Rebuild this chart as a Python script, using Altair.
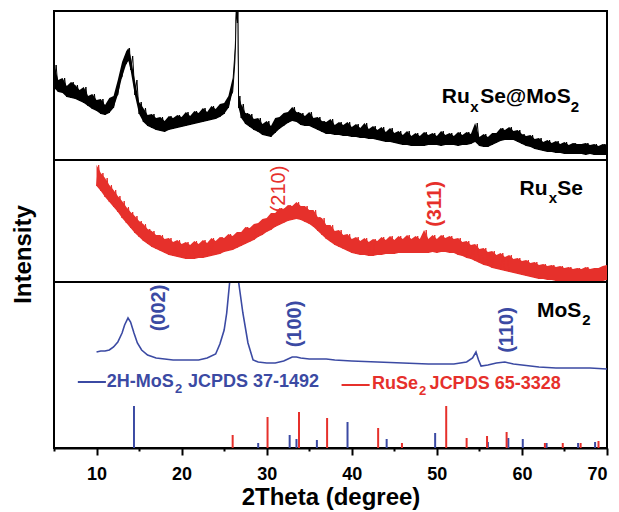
import altair as alt
import pandas as pd

F = "Liberation Sans"
RED = "#e6302b"
BLUE = "#3b4aa3"

# ---------------- data (intensity in arbitrary units, stacked offsets) ----------------
black_deg = [5.0, 5.5, 6.0, 6.5, 7.0, 7.5, 8.0, 8.5, 9.0, 9.5, 10.0, 10.5, 11.0, 11.5, 12.0, 12.5,
             13.0, 13.5, 13.75, 14.0, 14.5, 15.0, 15.5, 16.0, 16.5, 17.0, 17.5, 18.0, 18.5, 19.0,
             19.5, 20.0, 20.5, 21.0, 21.5, 22.0, 22.5, 23.0, 23.5, 24.0, 24.5, 25.0, 25.5, 26.0,
             26.25, 26.4, 26.55, 26.7, 27.0, 27.5, 28.0, 28.5, 29.0, 29.5, 30.0, 30.5, 31.0, 31.5,
             32.0, 32.5, 33.0, 33.5, 34.0, 34.5, 35.0, 35.5, 36.0, 36.5, 37.0, 37.5, 38.0, 38.5,
             39.0, 39.5, 40.0, 40.5, 41.0, 41.5, 42.0, 42.5, 43.0, 43.5, 44.0, 44.5, 45.0, 45.5,
             46.0, 46.5, 47.0, 47.5, 48.0, 48.5, 49.0, 49.5, 50.0, 50.5, 51.0, 51.5, 52.0, 52.5,
             53.0, 53.5, 54.0, 54.5, 55.0, 55.5, 56.0, 56.5, 57.0, 57.5, 58.0, 58.5, 59.0, 59.5,
             60.0, 60.5, 61.0, 61.5, 62.0, 62.5, 63.0, 63.5, 64.0, 64.5, 65.0, 65.5, 66.0, 66.5,
             67.0, 67.5, 68.0, 68.5, 69.0, 69.5, 70.0]
black_lo = [360, 356, 355, 351, 350, 349, 347, 345, 342, 339, 337, 334, 333, 335, 340, 353,
            371, 384, 387, 378, 353, 334, 326, 322, 320, 318, 317, 316, 318, 319,
            320, 321, 322, 323, 324, 325, 326, 327, 328, 329, 331, 334, 340, 356,
            385, 430, 425, 340, 330, 324, 321, 318, 316, 313, 312, 311, 315, 319,
            322, 325, 327, 326, 323, 322, 322, 320, 318, 316, 314, 314, 313, 313,
            312, 312, 311, 311, 310, 310, 309, 309, 308, 307, 306, 306, 305, 304,
            303, 303, 302, 302, 302, 302, 303, 303, 303, 302, 303, 303, 303, 302,
            303, 303, 304, 306, 302, 301, 301, 303, 305, 307, 308, 308, 308, 306,
            304, 302, 301, 299, 298, 297, 296, 296, 295, 295, 294, 294, 294, 294,
            294, 293, 294, 293, 293, 293, 293]
black_hi = [383, 368, 370, 362, 366, 363, 358, 361, 352, 354, 348, 349, 343, 350, 352, 368,
            386, 397, 400, 392, 368, 346, 340, 333, 334, 330, 331, 327, 332, 330,
            333, 331, 336, 332, 337, 335, 340, 336, 342, 339, 344, 345, 352, 370,
            400, 445, 445, 352, 344, 335, 334, 329, 330, 324, 327, 322, 330, 331,
            335, 336, 341, 336, 335, 332, 336, 330, 331, 327, 326, 329, 323, 326,
            323, 326, 321, 324, 320, 325, 319, 322, 318, 321, 316, 320, 315, 317,
            313, 317, 312, 315, 312, 316, 313, 315, 312, 317, 313, 315, 312, 316,
            313, 316, 314, 325, 311, 314, 311, 315, 315, 320, 318, 321, 317, 318,
            314, 312, 313, 309, 310, 306, 308, 305, 307, 304, 306, 303, 305, 304,
            304, 305, 303, 304, 302, 304, 303]

red_deg = [10.0 + 0.5 * k for k in range(121)]
red_lo = [262, 257, 251, 246, 241, 236, 230, 225, 220, 215,
          211, 207, 204, 201, 199, 197, 195, 193, 192, 191,
          190, 189, 189, 189, 190, 190, 191, 192, 193, 194,
          196, 197, 198, 200, 202, 204, 206, 208, 211, 213,
          216, 218, 221, 223, 225, 227, 228, 229, 228, 226,
          224, 221, 217, 213, 209, 206, 203, 201, 199, 197,
          195, 194, 193, 193, 192, 192, 193, 193, 194, 194,
          194, 195, 195, 195, 195, 195, 195, 195, 195, 196,
          195, 196, 196, 195, 195, 193, 192, 190, 189, 187,
          185, 183, 182, 180, 179, 178, 177, 176, 175, 174,
          173, 172, 171, 170, 169, 169, 168, 168, 167, 167,
          167, 167, 167, 167, 167, 167, 167, 167, 167, 167,
          168]
red_hi = [283, 275, 270, 263, 258, 252, 247, 241, 236, 232,
          227, 224, 219, 217, 213, 213, 209, 210, 206, 208,
          204, 206, 203, 207, 204, 208, 205, 210, 207, 211,
          210, 214, 212, 216, 216, 221, 220, 224, 225, 229,
          230, 235, 235, 240, 239, 243, 242, 246, 242, 242,
          238, 238, 231, 230, 223, 223, 217, 218, 213, 214,
          209, 211, 207, 210, 206, 209, 207, 211, 208, 212,
          208, 212, 209, 213, 209, 212, 209, 218, 209, 213,
          209, 213, 210, 212, 209, 210, 206, 207, 203, 204,
          199, 200, 196, 197, 193, 195, 191, 193, 189, 190,
          187, 188, 185, 186, 183, 184, 182, 183, 181, 182,
          180, 181, 179, 180, 179, 181, 179, 180, 180, 182,
          183]

blue_deg = [10.0, 10.5, 11.0, 11.5, 12.0, 12.5, 13.0, 13.3, 13.7, 14.0, 14.4, 14.8, 15.3, 16.0,
            17.0, 18.0, 19.0, 20.0, 21.0, 22.0, 23.0, 24.0, 24.5, 25.0, 25.3, 25.65, 26.2, 26.7,
            27.2, 27.8, 28.4, 29.0, 30.0, 31.0, 32.0, 32.5, 33.0, 33.5, 34.0, 35.0, 36.0, 37.0,
            38.0, 40.0, 43.0, 46.0, 49.0, 52.0, 53.5, 54.2, 54.6, 54.9, 55.2, 56.0, 57.0, 58.0,
            59.0, 60.0, 62.0, 64.0, 66.0, 68.0, 70.0]
blue_val = [96, 97, 97, 98, 101, 106, 115, 123, 130, 126, 115, 105, 98, 93,
            90, 89, 88, 88, 88, 88, 90, 94, 104, 118, 135, 166, 166, 166,
            135, 105, 88, 86, 85, 85, 87, 89, 91, 91, 90, 89, 89, 89,
            88, 87, 86, 85, 84, 84, 86, 90, 96, 88, 82, 83, 85, 86,
            84, 83, 81, 80, 80, 80, 79]

# reference patterns (stick heights)
mos2_ref_deg = [14.4, 29.0, 32.7, 33.5, 35.9, 39.5, 44.1, 49.8, 56.0, 58.4, 60.1, 62.9, 66.6, 68.6]
mos2_ref_h = [42, 5, 13, 9, 8, 26, 9, 15, 6, 10, 9, 5, 5, 6]
ruse2_ref_deg = [26.0, 30.1, 33.8, 37.1, 43.1, 45.9, 51.1, 53.5, 55.9, 58.2, 62.7, 64.8, 66.9, 69.0]
ruse2_ref_h = [13, 31, 36, 30, 20, 5, 42, 10, 12, 16, 5, 5, 5, 7]

panel_dividers = [288, 166]

# text pieces (main text and subscripts)
seg_text = ["Ru", "x", "Se@MoS", "2", "Ru", "x", "Se", "MoS", "2",
            "2H-MoS", "2", "JCPDS 37-1492", "RuSe", "2", "JCPDS 65-3328"]
seg_deg = [50.59, 53.92, 55.09, 65.75, 59.72, 63.15, 64.15, 61.76, 67.09,
           11.21, 19.21, 20.74, 42.39, 47.91, 49.15]
seg_y = [344.7, 336.5, 344.7, 336.5, 253, 245, 253, 130.7, 123,
         61.3, 55, 61.3, 58.7, 53, 58.7]
seg_size = [21, 15, 21, 15, 21, 15, 21, 21, 15, 18, 13, 18, 18, 13, 18]
seg_color = ["black"] * 9 + [BLUE] * 3 + [RED] * 3

hkl_text = ["(210)", "(311)", "(002)", "(100)", "(110)"]
hkl_deg = [31.4, 49.8, 17.4, 33.3, 58.2]
hkl_y = [259, 244, 140, 124, 118]
hkl_group = ["red_reg", "red", "blue", "blue", "blue"]

legend_line_deg = [7.8, 38.8]
legend_line_deg2 = [11.1, 42.1]
legend_line_y = [66, 63]

# ---------------- build tables ----------------
def zigzag(deg, lo, hi):
    rows = []
    for i in range(len(deg)):
        rows.append({"deg": deg[i], "y": lo[i]})
        if i + 1 < len(deg):
            rows.append({"deg": (deg[i] + deg[i + 1]) / 2, "y": hi[i]})
        else:
            rows.append({"deg": deg[i], "y": hi[i]})
    return pd.DataFrame(rows)

black_band = pd.DataFrame({"deg": black_deg, "y": black_lo, "y2": black_hi})
red_band = pd.DataFrame({"deg": red_deg, "y": red_lo, "y2": red_hi})
black_zz = zigzag(black_deg, black_lo, black_hi)
red_zz = zigzag(red_deg, red_lo, red_hi)
blue_df = pd.DataFrame({"deg": blue_deg, "y": blue_val})
mos2_df = pd.DataFrame({"deg": mos2_ref_deg, "y": [0] * len(mos2_ref_deg), "y2": mos2_ref_h})
ruse2_df = pd.DataFrame({"deg": ruse2_ref_deg, "y": [0] * len(ruse2_ref_deg), "y2": ruse2_ref_h})
div_df = pd.DataFrame({"y": panel_dividers})
seg_df = pd.DataFrame({"deg": seg_deg, "y": seg_y, "t": seg_text, "s": seg_size, "c": seg_color})
hkl_df = pd.DataFrame({"deg": hkl_deg, "y": hkl_y, "t": hkl_text, "g": hkl_group})
legl_df = pd.DataFrame({"deg": legend_line_deg, "deg2": legend_line_deg2, "y": legend_line_y,
                        "c": [BLUE, RED]})

xscale = alt.Scale(domain=[5, 70], nice=False, zero=False)
yscale = alt.Scale(domain=[0, 437], nice=False, zero=False)
xaxis = alt.Axis(
    values=list(range(5, 71, 5)),
    labelExpr="datum.value % 10 === 0 ? datum.label : ''",
    tickSize={"condition": {"test": "datum.value % 10 === 0", "value": 7}, "value": 3},
    tickWidth=2, tickColor="black", domainColor="black", domainWidth=2,
    labelFont=F, labelFontSize=18, labelFontWeight="bold", labelColor="black", labelPadding=10,
    title="2Theta (degree)", titleFont=F, titleFontSize=24, titleFontWeight="bold",
    titleColor="black", titlePadding=2, grid=False,
)
yaxis = alt.Axis(
    title="Intensity", labels=False, ticks=False, domain=False, grid=False,
    titleX=-31, titleY=243, titleAngle=270, titleAlign="center", titleBaseline="middle",
    titleFont=F, titleFontSize=24, titleFontWeight="bold", titleColor="black",
)
X = alt.X("deg:Q", scale=xscale, axis=xaxis)
Y = alt.Y("y:Q", scale=yscale, axis=yaxis)

black_area = alt.Chart(black_band).mark_area(color="black", clip=True).encode(x=X, y=Y, y2="y2:Q")
black_line = alt.Chart(black_zz).mark_line(color="black", strokeWidth=1, clip=True).encode(x=X, y=Y)
red_area = alt.Chart(red_band).mark_area(color=RED, clip=True).encode(x=X, y=Y, y2="y2:Q")
red_line = alt.Chart(red_zz).mark_line(color=RED, strokeWidth=1, clip=True).encode(x=X, y=Y)
blue_line = alt.Chart(blue_df).mark_line(color=BLUE, strokeWidth=1.6, clip=True).encode(x=X, y=Y)
mos2_st = alt.Chart(mos2_df).mark_rule(color=BLUE, strokeWidth=2).encode(x=X, y=Y, y2="y2:Q")
ruse2_st = alt.Chart(ruse2_df).mark_rule(color=RED, strokeWidth=2).encode(x=X, y=Y, y2="y2:Q")
dividers = alt.Chart(div_df).mark_rule(color="black", strokeWidth=2).encode(y=Y)

segs = alt.Chart(seg_df).mark_text(
    font=F, fontWeight="bold", align="left", baseline="alphabetic"
).encode(x=X, y=Y, text="t:N", size=alt.Size("s:Q", scale=None),
         color=alt.Color("c:N", scale=None))

hkl_red_reg = alt.Chart(hkl_df[hkl_df.g == "red_reg"]).mark_text(
    font=F, fontSize=20, color=RED, angle=270, align="center", baseline="middle"
).encode(x=X, y=Y, text="t:N")
hkl_red = alt.Chart(hkl_df[hkl_df.g == "red"]).mark_text(
    font=F, fontSize=20, fontWeight="bold", color=RED, angle=270, align="center", baseline="middle"
).encode(x=X, y=Y, text="t:N")
hkl_blue = alt.Chart(hkl_df[hkl_df.g == "blue"]).mark_text(
    font=F, fontSize=20, fontWeight="bold", color=BLUE, angle=270, align="center", baseline="middle"
).encode(x=X, y=Y, text="t:N")

leg_lines = alt.Chart(legl_df).mark_rule(strokeWidth=2).encode(
    x=X, x2="deg2:Q", y=Y, color=alt.Color("c:N", scale=None))

chart = alt.layer(
    black_area, black_line, red_area, red_line, blue_line,
    mos2_st, ruse2_st, dividers, segs, hkl_red_reg, hkl_red, hkl_blue, leg_lines,
).properties(
    width=553, height=437,
    autosize=alt.AutoSizeParams(type="none"),
    padding={"left": 46, "top": 3, "right": 4, "bottom": 64},
    background="white",
).configure_view(stroke="black", strokeWidth=2)

chart.save("out.html", embed_options={"renderer": "svg", "actions": False})
